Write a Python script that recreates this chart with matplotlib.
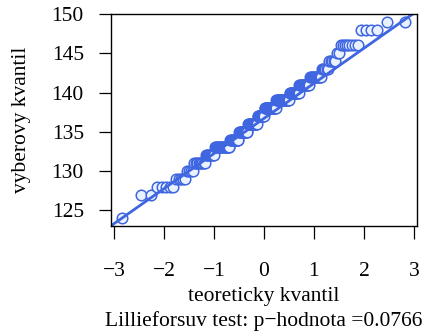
import numpy as np
import matplotlib
matplotlib.use('Agg')
import matplotlib.pyplot as plt
from statistics import NormalDist

plt.rcParams['font.family'] = ['Liberation Serif', 'DejaVu Serif']
plt.rcParams['font.size'] = 15.5

# observed values and how many times each occurs
values = [124, 125, 126, 127, 128, 129, 130, 131, 132, 133, 134, 135, 136,
          137, 138, 139, 140, 141, 142, 143, 144, 145, 146, 147, 148, 149]
counts = [1, 0, 0, 2, 5, 5, 4, 9, 9, 18, 13, 14, 16,
          12, 20, 21, 14, 13, 12, 6, 5, 2, 8, 0, 4, 2]

# reference line (qqline)
line_intercept = 136.7
line_slope = 4.47

p_value = 0.0766

y = np.repeat(values, counts).astype(float)
n = len(y)
nd = NormalDist()
probs = (np.arange(1, n + 1) - 0.5) / n
x = np.array([nd.inv_cdf(p) for p in probs])

fig = plt.figure(figsize=(4.3, 3.36), dpi=100)
ax = fig.add_axes([0.2581, 0.3274, 0.7116, 0.631])

blue = '#3f66e0'
ax.plot(x, y, linestyle='none', marker='o', markersize=7.6,
        markerfacecolor='#eaf2ff', markeredgecolor=blue, markeredgewidth=1.1)

xl = np.array([-3.06, 3.06])
ax.plot(xl, line_intercept + line_slope * xl, color=blue, linewidth=2.0)

ax.set_xlim(-3.06, 3.06)
ax.set_ylim(123, 150)
ax.set_xticks([-3, -2, -1, 0, 1, 2, 3])
ax.set_yticks([125, 130, 135, 140, 145, 150])

for s in ax.spines.values():
    s.set_linewidth(1.0)
ax.tick_params(axis='both', direction='out', length=9, width=0.9)
ax.tick_params(axis='y', pad=10.5)
ax.tick_params(axis='x', pad=17)

ax.set_xlabel('teoreticky kvantil\nLillieforsuv test: p\u2212hodnota =%.4f' % p_value,
              linespacing=1.3)
ax.xaxis.set_label_coords(0.5, -0.29)
ax.set_ylabel('vyberovy kvantil')
ax.yaxis.set_label_coords(-0.26, 0.5)

fig.savefig('out.png', dpi=100)
